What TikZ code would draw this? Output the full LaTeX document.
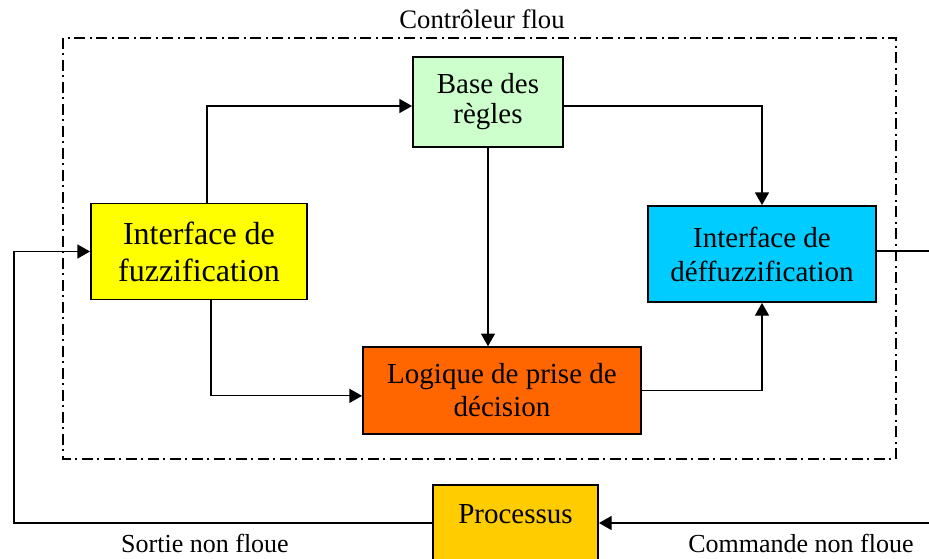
\documentclass[tikz,border=0pt]{standalone}
\usepackage{fontspec}
\setmainfont{Liberation Serif}
\usepackage{tikz}
\usetikzlibrary{arrows.meta, positioning, calc}
\definecolor{regvert}{RGB}{204,255,204}
\definecolor{fuzjaune}{RGB}{255,255,0}
\definecolor{defbleu}{RGB}{0,204,255}
\definecolor{logorange}{RGB}{255,102,0}
\definecolor{procor}{RGB}{255,204,0}
\tikzset{
  line/.style={draw=black, line width=0.9pt},
  arrow/.style={draw=black, -{Triangle[length=9.5pt,width=10.5pt]}, line width=0.9pt},
  block/.style={draw=black, rectangle, line width=1.4pt, align=center, inner sep=0pt, font=\fontsize{21.75}{25}\selectfont},
  cadre/.style={draw=black, line width=1pt, dash pattern=on 8pt off 3.5pt on 1.5pt off 3.5pt},
  etiq/.style={anchor=base, font=\fontsize{19.5}{22}\selectfont}
}
\begin{document}
\begin{tikzpicture}[x=0.75pt, y=-0.75pt]
  \useasboundingbox (0,0) rectangle (929,558);

  % controleur
  \draw [cadre] (63,38) rectangle (896,459);
  \node [etiq, font=\fontsize{20}{22}\selectfont] (titre) at (482,28) {Contrôleur flou};

  \node [block, fill=regvert, minimum width=112.5pt, minimum height=67.5pt, font=\fontsize{21.75}{22.5}\selectfont] (base) at (488,102) {Base des\\règles};
  \node [block, fill=fuzjaune, minimum width=162pt, minimum height=72pt, font=\fontsize{24}{27.75}\selectfont] (fuzz) at (199,251.5) {Interface de\\fuzzification};
  \node [block, fill=defbleu, minimum width=171pt, minimum height=72pt, font=\fontsize{21.75}{25.5}\selectfont] (defuzz) at (762,254) {Interface de\\déffuzzification};
  \node [block, fill=logorange, minimum width=208.5pt, minimum height=65pt, font=\fontsize{21.75}{24.75}\selectfont] (logique) at (502,390.5) {Logique de prise de\\décision};
  \node [block, fill=procor, minimum width=123.75pt, minimum height=67.5pt, text height=15pt, text depth=25.5pt] (proc) at (515.5,530) {Processus};

  \coordinate (sortie) at (929,251);
  \coordinate (cmd) at (929,523);
  \coordinate (retour) at (14,523);

  % liaisons
  \draw [arrow] ([xshift=6pt]fuzz.north) |- ([yshift=-3pt]base.west);
  \draw [arrow] ([yshift=-3pt]base.east) -| (defuzz.north);
  \draw [arrow] (base.south) -- (base.south |- logique.north);
  \draw [arrow] ([xshift=9pt]fuzz.south) |- ([yshift=-4pt]logique.west);
  \draw [arrow] (logique.east) -| (defuzz.south);
  \draw [line] (defuzz.east |- sortie) -- (sortie);
  \draw [arrow] (cmd) -- (cmd -| proc.east);
  \draw [arrow] (proc.west |- retour) -- (retour) |- (fuzz.west);

  \node [etiq] (lsortie) at (205,552) {Sortie non floue};
  \node [etiq] (lcmd) at (801,552) {Commande non floue};
\end{tikzpicture}
\end{document}
